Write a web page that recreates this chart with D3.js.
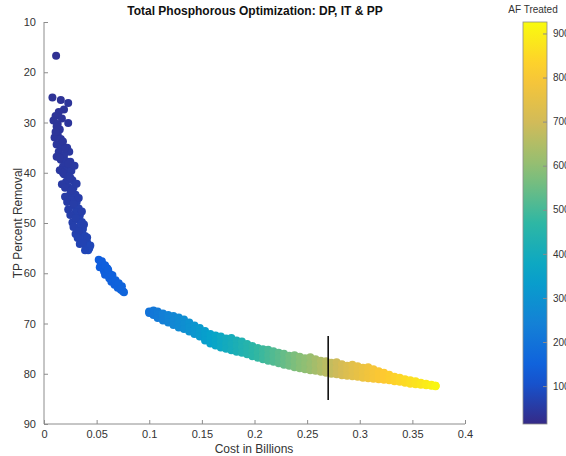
<!DOCTYPE html>
<html lang="en">
  <head>
    <meta charset="UTF-8" />
    <title>Total Phosphorous Optimization</title>
    <script src="https://cdn.jsdelivr.net/npm/d3@7"></script>
    <style>
      body { margin: 0; background: #fff; }
      text { font-family: "Liberation Sans", Arial, sans-serif; fill: #333; }
      .axis path, .axis line { stroke: #8c8c8c; }
      .title { font-weight: bold; font-size: 12px; fill: #111; }
    </style>
  </head>
  <body>
    <script>
      // first cluster (dark blue)
      var c1Cost = [0.0115, 0.008, 0.016, 0.023, 0.019, 0.014, 0.011, 0.009, 0.013, 0.023,
                    0.015, 0.013, 0.010, 0.016, 0.012, 0.017, 0.022, 0.024, 0.014, 0.019,
                    0.016, 0.021, 0.025, 0.018, 0.022, 0.026, 0.019, 0.024, 0.021, 0.027,
                    0.023, 0.028, 0.025, 0.030, 0.026, 0.031, 0.028, 0.033, 0.030, 0.034,
                    0.032, 0.036, 0.034, 0.037, 0.036, 0.039, 0.038, 0.041, 0.040, 0.043, 0.042,
                    0.012, 0.015, 0.017, 0.020, 0.023, 0.027, 0.030, 0.034, 0.029, 0.031,
                    0.033, 0.036, 0.038, 0.041, 0.044,
                    0.018, 0.020, 0.015, 0.023, 0.018, 0.025, 0.020, 0.026, 0.022, 0.028,
                    0.025, 0.030, 0.028, 0.033, 0.032, 0.037, 0.039, 0.012, 0.017, 0.011];
      var c1Removal = [16.7, 25.0, 25.5, 26.1, 27.4, 27.9, 28.7, 29.6, 30.3, 30.1,
                       31.4, 32.4, 33.0, 33.3, 34.4, 34.9, 35.0, 35.8, 35.8, 36.6,
                       37.4, 37.7, 37.8, 38.8, 39.3, 39.6, 40.3, 40.8, 41.8, 41.5,
                       42.9, 43.0, 44.2, 44.4, 45.4, 45.8, 46.6, 47.1, 47.9, 48.5,
                       49.3, 49.8, 50.6, 51.2, 52.0, 52.6, 53.4, 53.9, 54.6, 55.0, 55.4,
                       36.8, 39.5, 42.3, 44.8, 47.3, 49.9, 52.2, 54.2, 38.6, 42.2,
                       45.0, 47.7, 50.3, 52.9, 54.5,
                       33.8, 35.2, 37.0, 38.2, 40.0, 41.0, 43.0, 43.6, 45.8, 46.2,
                       48.4, 49.0, 50.8, 51.6, 53.0, 54.0, 55.4, 30.8, 29.2, 31.9];
      var c1AF = [30, 34, 35, 38, 37, 36, 36, 37, 38, 40,
                  39, 40, 40, 41, 41, 43, 44, 45, 43, 45,
                  45, 47, 48, 47, 49, 50, 49, 51, 51, 53,
                  53, 55, 55, 57, 57, 59, 59, 61, 61, 63,
                  64, 66, 66, 68, 69, 71, 72, 75, 76, 80, 82,
                  42, 46, 50, 54, 58, 62, 66, 72, 48, 52,
                  56, 60, 64, 70, 78,
                  41, 43, 43, 46, 47, 50, 51, 53, 55, 57,
                  59, 61, 63, 65, 68, 72, 76, 37, 37, 38];

      // second cluster (blue)
      var c2Cost = [0.052, 0.054, 0.053, 0.056, 0.057, 0.059, 0.058, 0.061, 0.062, 0.064, 0.064,
                    0.066, 0.067, 0.069, 0.070, 0.072, 0.073, 0.075, 0.076, 0.060, 0.063,
                    0.055, 0.058, 0.061, 0.065, 0.068, 0.071, 0.074];
      var c2Removal = [57.3, 58.1, 58.8, 58.7, 59.6, 59.5, 60.3, 60.2, 61.0, 60.9, 61.7,
                       61.6, 62.3, 62.2, 62.9, 62.8, 63.3, 63.6, 63.8, 59.0, 60.2,
                       57.6, 58.4, 59.3, 60.4, 61.4, 62.0, 62.6];
      var c2AF = [130, 132, 133, 134, 136, 137, 138, 139, 141, 142, 143,
                  145, 146, 148, 149, 151, 152, 154, 155, 137, 140,
                  133, 136, 139, 143, 147, 150, 153];

      // long band (blue -> yellow): upper, middle and lower rows of dots
      var bandCost = [0.100, 0.104, 0.108, 0.113, 0.118, 0.123, 0.128, 0.133, 0.138, 0.143,
                      0.148, 0.153, 0.158, 0.163, 0.168, 0.173, 0.178, 0.183, 0.188, 0.193,
                      0.198, 0.203, 0.208, 0.213, 0.218, 0.223, 0.228, 0.233, 0.238, 0.243,
                      0.248, 0.253, 0.258, 0.263, 0.268, 0.273, 0.278, 0.283, 0.288, 0.293,
                      0.298, 0.303, 0.308, 0.313, 0.318, 0.323, 0.328, 0.333, 0.338, 0.343,
                      0.348, 0.353, 0.358, 0.363, 0.368, 0.372];
      var bandUpper = [67.6, 67.4, 67.6, 68.0, 68.3, 68.5, 68.8, 69.2, 69.8, 70.4,
                       70.9, 71.5, 72.1, 72.4, 72.6, 73.0, 72.9, 73.4, 73.6, 74.1,
                       74.5, 74.9, 75.1, 75.2, 75.5, 75.8, 76.0, 76.4, 76.3, 76.6,
                       76.9, 76.7, 77.1, 77.4, 77.5, 77.8, 77.7, 78.1, 78.4, 78.2,
                       78.5, 78.8, 78.7, 79.1, 79.5, 79.8, 80.2, 80.6, 80.8, 81.1,
                       81.3, 81.5, 81.8, 82.0, 82.2, 82.4];
      var bandMiddle = [67.7, 67.9, 68.2, 68.7, 69.0, 69.4, 69.8, 70.1, 70.7, 71.2,
                        71.7, 72.4, 73.0, 73.4, 73.7, 74.0, 74.1, 74.5, 74.7, 75.1,
                        75.5, 75.8, 76.1, 76.3, 76.5, 76.8, 77.1, 77.4, 77.5, 77.7,
                        78.0, 78.0, 78.2, 78.5, 78.6, 78.9, 78.9, 79.2, 79.4, 79.3,
                        79.5, 79.8, 79.8, 80.0, 80.3, 80.5, 80.7, 81.0, 81.2, 81.4,
                        81.6, 81.8, 82.0, 82.1, 82.3, 82.4];
      var bandLower = [67.9, 68.3, 68.9, 69.4, 69.8, 70.3, 70.8, 71.1, 71.6, 72.1,
                       72.6, 73.4, 74.0, 74.4, 74.8, 75.0, 75.3, 75.6, 75.8, 76.1,
                       76.5, 76.8, 77.1, 77.4, 77.6, 77.9, 78.2, 78.4, 78.7, 78.9,
                       79.1, 79.3, 79.4, 79.6, 79.8, 80.0, 80.1, 80.3, 80.4, 80.5,
                       80.6, 80.8, 80.9, 81.0, 81.1, 81.2, 81.3, 81.5, 81.6, 81.8,
                       82.0, 82.1, 82.2, 82.3, 82.4, 82.5];
      var bandAF = [200, 210, 220, 235, 248, 260, 272, 285, 298, 310,
                    323, 336, 350, 364, 378, 392, 405, 418, 432, 446,
                    460, 474, 488, 502, 515, 528, 542, 556, 570, 584,
                    597, 612, 628, 645, 662, 678, 694, 710, 725, 740,
                    754, 767, 780, 792, 803, 814, 824, 834, 843, 852,
                    861, 870, 880, 890, 902, 915];

      var markerCost = 0.27;
      var markerRemoval = [72.5, 85.2];

      var xTicks = [0, 0.05, 0.1, 0.15, 0.2, 0.25, 0.3, 0.35, 0.4];
      var yTicks = [10, 20, 30, 40, 50, 60, 70, 80, 90];
      var cbTicks = [100, 200, 300, 400, 500, 600, 700, 800, 900];
      var afDomain = [14, 926];

      // parula-like colormap
      var parulaStops = ["#352a87", "#0f5cdd", "#1481d6", "#06a4ca", "#2eb7a4",
                         "#87bf77", "#d1bb59", "#fec832", "#f9fb0e"];
      var parula = d3.piecewise(d3.interpolateRgb, parulaStops);

      var w = 566, h = 456;
      var margin = { top: 22, right: 101, bottom: 32, left: 44 };

      var svg = d3.select("body").append("svg")
                  .attr("width", w)
                  .attr("height", h);

      var xScale = d3.scaleLinear().domain([0, 0.4]).range([margin.left, w - margin.right]);
      var yScale = d3.scaleLinear().domain([10, 90]).range([margin.top, h - margin.bottom]);
      var cScale = d3.scaleLinear().domain(afDomain).range([h - margin.bottom, margin.top]);
      var colour = function(v) {
        return parula((v - afDomain[0]) / (afDomain[1] - afDomain[0]));
      };

      // build point list
      var points = [];
      c1Cost.forEach(function(c, i) {
        points.push({ cost: c, removal: c1Removal[i], af: c1AF[i] });
      });
      c2Cost.forEach(function(c, i) {
        points.push({ cost: c, removal: c2Removal[i], af: c2AF[i] });
      });
      bandCost.forEach(function(c, i) {
        points.push({ cost: c, removal: bandUpper[i], af: bandAF[i] });
        points.push({ cost: c, removal: bandMiddle[i], af: bandAF[i] });
        points.push({ cost: c, removal: bandLower[i], af: bandAF[i] });
      });

      svg.append("g")
         .selectAll("circle")
         .data(points)
         .enter()
         .append("circle")
         .attr("cx", function(d) { return xScale(d.cost); })
         .attr("cy", function(d) { return yScale(d.removal); })
         .attr("r", 4)
         .attr("fill", function(d) { return colour(d.af); });

      svg.append("line")
         .attr("x1", xScale(markerCost))
         .attr("x2", xScale(markerCost))
         .attr("y1", yScale(markerRemoval[0]))
         .attr("y2", yScale(markerRemoval[1]))
         .attr("stroke", "#000")
         .attr("stroke-width", 1.5);

      // axes (MATLAB style: ticks point inward)
      var xAxis = d3.axisBottom(xScale)
                    .tickValues(xTicks)
                    .tickSize(-4)
                    .tickPadding(6)
                    .tickFormat(function(d) { return d3.format("")(d); });
      var yAxis = d3.axisLeft(yScale)
                    .tickValues(yTicks)
                    .tickSize(-4)
                    .tickPadding(8);

      var gx = svg.append("g")
         .attr("class", "axis")
         .attr("transform", "translate(0," + (h - margin.bottom) + ")")
         .call(xAxis);
      gx.selectAll("text").attr("font-size", 11).attr("fill", "#444");
      gx.select(".domain").attr("d", "M" + xScale(0) + ",0H" + xScale(0.4));

      var gy = svg.append("g")
         .attr("class", "axis")
         .attr("transform", "translate(" + margin.left + ",0)")
         .call(yAxis);
      gy.selectAll("text").attr("font-size", 11).attr("fill", "#444");
      gy.select(".domain").attr("d", "M0," + yScale(10) + "V" + yScale(90));

      svg.append("text")
         .attr("class", "title")
         .attr("x", 255)
         .attr("y", 15)
         .attr("text-anchor", "middle")
         .text("Total Phosphorous Optimization: DP, IT & PP");

      svg.append("text")
         .attr("x", 254)
         .attr("y", 453)
         .attr("text-anchor", "middle")
         .attr("font-size", 12)
         .text("Cost in Billions");

      svg.append("text")
         .attr("transform", "translate(22," + yScale(50) + ") rotate(-90)")
         .attr("text-anchor", "middle")
         .attr("font-size", 12)
         .text("TP Percent Removal");

      // colorbar
      var cbX = 523, cbW = 24;
      var defs = svg.append("defs");
      var grad = defs.append("linearGradient")
                     .attr("id", "cbGrad")
                     .attr("x1", 0).attr("y1", 1)
                     .attr("x2", 0).attr("y2", 0);
      d3.range(0, 1.0001, 0.05).forEach(function(t) {
        grad.append("stop")
            .attr("offset", t)
            .attr("stop-color", parula(t));
      });
      svg.append("rect")
         .attr("x", cbX)
         .attr("y", cScale(afDomain[1]))
         .attr("width", cbW)
         .attr("height", cScale(afDomain[0]) - cScale(afDomain[1]))
         .attr("fill", "url(#cbGrad)")
         .attr("stroke", "#8c8c8c")
         .attr("stroke-width", 0.8);

      var cbAxis = d3.axisRight(cScale)
                     .tickValues(cbTicks)
                     .tickSize(-4)
                     .tickPadding(6);
      var gc = svg.append("g")
         .attr("class", "axis")
         .attr("transform", "translate(" + (cbX + cbW) + ",0)")
         .call(cbAxis);
      gc.select(".domain").remove();
      gc.selectAll("line").attr("stroke", "#777");
      gc.selectAll("text").attr("font-size", 10).attr("fill", "#444");

      svg.append("text")
         .attr("x", 533)
         .attr("y", 13)
         .attr("text-anchor", "middle")
         .attr("font-size", 10)
         .text("AF Treated");
    </script>
  </body>
</html>
